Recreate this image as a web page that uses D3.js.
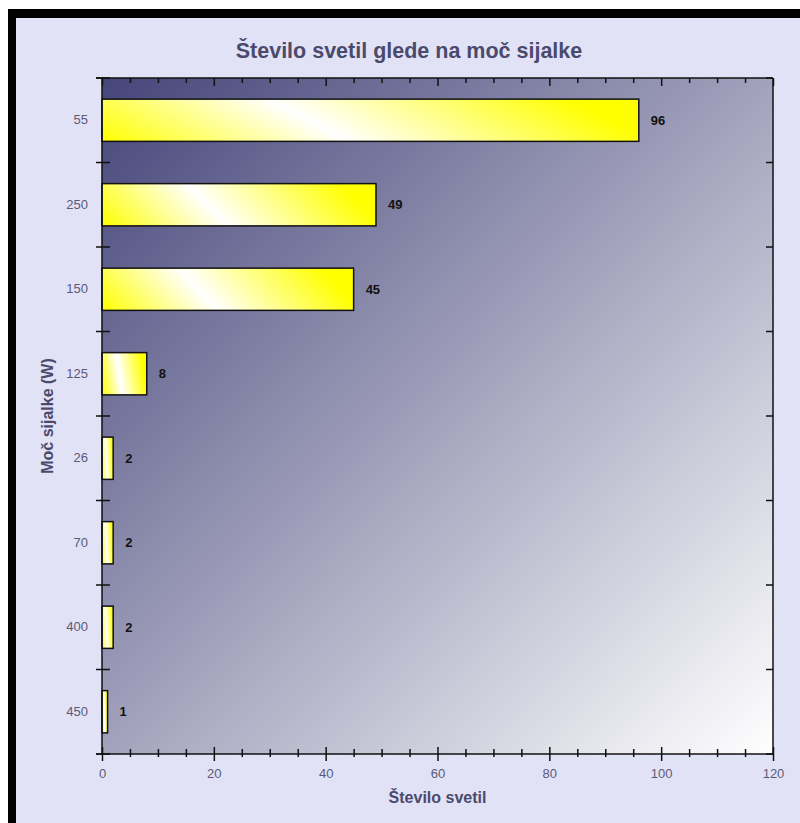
<!DOCTYPE html>
<html>
<head>
<meta charset="utf-8">
<script src="https://cdn.jsdelivr.net/npm/d3@7"></script>
<style>
  body { margin: 0; background: #fff; }
  svg { display: block; }
</style>
</head>
<body>
<svg id="chart" width="800" height="823"></svg>
<script>
// Podatki grafa
const categories = ["55", "250", "150", "125", "26", "70", "400", "450"];
const values = [96, 49, 45, 8, 2, 2, 2, 1];
const xMajorTicks = [0, 20, 40, 60, 80, 100, 120];
const xMinorTicks = [5, 10, 15, 25, 30, 35, 45, 50, 55, 65, 70, 75, 85, 90, 95, 105, 110, 115];

const chartTitle = "Število svetil glede na moč sijalke";
const xTitle = "Število svetil";
const yTitle = "Moč sijalke (W)";

const svg = d3.select("#chart");
const width = +svg.attr("width");
const height = +svg.attr("height");

// Robovi območja risanja
const plot = { left: 102, right: 773, top: 78, bottom: 754 };

const font = "'Liberation Sans', Arial, sans-serif";
const labelColor = "#5a5a78";
const titleColor = "#4a4a6c";
const lineColor = "#111";

// Gradienti
const defs = svg.append("defs");

const bg = defs.append("linearGradient")
  .attr("id", "plotBg")
  .attr("x1", 0).attr("y1", 0).attr("x2", 1).attr("y2", 1);
bg.append("stop").attr("offset", 0).attr("stop-color", "#45457a");
bg.append("stop").attr("offset", 1).attr("stop-color", "#ffffff");

const barGrad = defs.append("linearGradient")
  .attr("id", "barFill")
  .attr("x1", 0).attr("y1", 1).attr("x2", 1).attr("y2", 0.85);
barGrad.append("stop").attr("offset", 0).attr("stop-color", "#ffff00");
barGrad.append("stop").attr("offset", 0.45).attr("stop-color", "#ffffff");
barGrad.append("stop").attr("offset", 1).attr("stop-color", "#ffff00");

// Okvir in ozadje
svg.append("rect")
  .attr("x", 8).attr("y", 9)
  .attr("width", width).attr("height", height)
  .attr("fill", "#000");
svg.append("rect")
  .attr("x", 16).attr("y", 18)
  .attr("width", width).attr("height", height)
  .attr("fill", "#e2e2f6");

// Skale
const x = d3.scaleLinear()
  .domain([0, 120])
  .range([plot.left, plot.right]);

const y = d3.scaleBand()
  .domain(categories)
  .range([plot.top, plot.bottom])
  .paddingInner(0.5)
  .paddingOuter(0.25);

// Ozadje območja risanja
svg.append("rect")
  .attr("x", plot.left).attr("y", plot.top)
  .attr("width", plot.right - plot.left)
  .attr("height", plot.bottom - plot.top)
  .attr("fill", "url(#plotBg)");

// Meje kategorij (za oznake na levi in desni osi)
const bandEdges = d3.range(categories.length + 1).map(i => plot.top + i * y.step());

// Stolpci
const data = categories.map((c, i) => ({ cat: c, value: values[i] }));

svg.append("g")
  .selectAll("rect")
  .data(data)
  .join("rect")
  .attr("x", x(0))
  .attr("y", d => y(d.cat))
  .attr("width", d => x(d.value) - x(0))
  .attr("height", y.bandwidth())
  .attr("fill", "url(#barFill)")
  .attr("stroke", "#111")
  .attr("stroke-width", 1.5);

// Vrednosti ob stolpcih
svg.append("g")
  .selectAll("text")
  .data(data)
  .join("text")
  .attr("x", d => x(d.value) + 12)
  .attr("y", d => y(d.cat) + y.bandwidth() / 2)
  .attr("dy", "0.36em")
  .attr("font-family", font)
  .attr("font-size", "13px")
  .attr("font-weight", "bold")
  .attr("fill", "#111")
  .text(d => d.value);

// Spodnja os - glavne oznake z napisi
const xAxis = svg.append("g")
  .attr("transform", `translate(0,${plot.bottom})`)
  .call(d3.axisBottom(x).tickValues(xMajorTicks).tickSize(7).tickPadding(8));
xAxis.select(".domain").remove();
xAxis.selectAll("line").attr("y1", -7).attr("stroke", lineColor).attr("stroke-width", 1.5);
xAxis.selectAll("text")
  .attr("font-family", font)
  .attr("font-size", "13px")
  .attr("fill", labelColor);

// Spodnja os - pomožne oznake
const xMinor = svg.append("g")
  .attr("transform", `translate(0,${plot.bottom})`)
  .call(d3.axisBottom(x).tickValues(xMinorTicks).tickSize(3).tickFormat(""));
xMinor.select(".domain").remove();
xMinor.selectAll("line").attr("y1", -5).attr("stroke", lineColor).attr("stroke-width", 1.5);

// Zgornja os - oznake navznoter
const topMajor = svg.append("g")
  .attr("transform", `translate(0,${plot.top})`)
  .call(d3.axisBottom(x).tickValues(xMajorTicks).tickSize(8).tickFormat(""));
topMajor.select(".domain").remove();
topMajor.selectAll("line").attr("stroke", lineColor).attr("stroke-width", 1.5);

const topMinor = svg.append("g")
  .attr("transform", `translate(0,${plot.top})`)
  .call(d3.axisBottom(x).tickValues(xMinorTicks).tickSize(5).tickFormat(""));
topMinor.select(".domain").remove();
topMinor.selectAll("line").attr("stroke", lineColor).attr("stroke-width", 1.5);

// Leva os - napisi kategorij
const yAxis = svg.append("g")
  .attr("transform", `translate(${plot.left},0)`)
  .call(d3.axisLeft(y).tickSize(0).tickPadding(14));
yAxis.select(".domain").remove();
yAxis.selectAll("text")
  .attr("font-family", font)
  .attr("font-size", "13px")
  .attr("fill", labelColor);

// Leva in desna os - oznake med kategorijami
svg.append("g")
  .selectAll("line")
  .data(bandEdges)
  .join("line")
  .attr("x1", plot.left - 6).attr("x2", plot.left + 8)
  .attr("y1", d => d).attr("y2", d => d)
  .attr("stroke", lineColor).attr("stroke-width", 1.5);

svg.append("g")
  .selectAll("line")
  .data(bandEdges)
  .join("line")
  .attr("x1", plot.right - 7).attr("x2", plot.right)
  .attr("y1", d => d).attr("y2", d => d)
  .attr("stroke", lineColor).attr("stroke-width", 1.5);

// Okvir območja risanja
const frame = svg.append("g").attr("stroke", lineColor).attr("stroke-width", 1.5);
frame.append("line").attr("x1", plot.left - 6).attr("x2", plot.right).attr("y1", plot.top).attr("y2", plot.top);
frame.append("line").attr("x1", plot.left - 6).attr("x2", plot.right).attr("y1", plot.bottom).attr("y2", plot.bottom);
frame.append("line").attr("x1", plot.left).attr("x2", plot.left).attr("y1", plot.top).attr("y2", plot.bottom);
frame.append("line").attr("x1", plot.right).attr("x2", plot.right).attr("y1", plot.top).attr("y2", plot.bottom);

// Naslovi
svg.append("text")
  .attr("x", 409)
  .attr("y", 58)
  .attr("text-anchor", "middle")
  .attr("font-family", font)
  .attr("font-size", "21.5px")
  .attr("font-weight", "bold")
  .attr("fill", titleColor)
  .text(chartTitle);

svg.append("text")
  .attr("x", (plot.left + plot.right) / 2)
  .attr("y", 803)
  .attr("text-anchor", "middle")
  .attr("font-family", font)
  .attr("font-size", "16px")
  .attr("font-weight", "bold")
  .attr("fill", titleColor)
  .text(xTitle);

svg.append("text")
  .attr("transform", `translate(53,${(plot.top + plot.bottom) / 2}) rotate(-90)`)
  .attr("text-anchor", "middle")
  .attr("font-family", font)
  .attr("font-size", "16px")
  .attr("font-weight", "bold")
  .attr("fill", titleColor)
  .text(yTitle);
</script>
</body>
</html>
